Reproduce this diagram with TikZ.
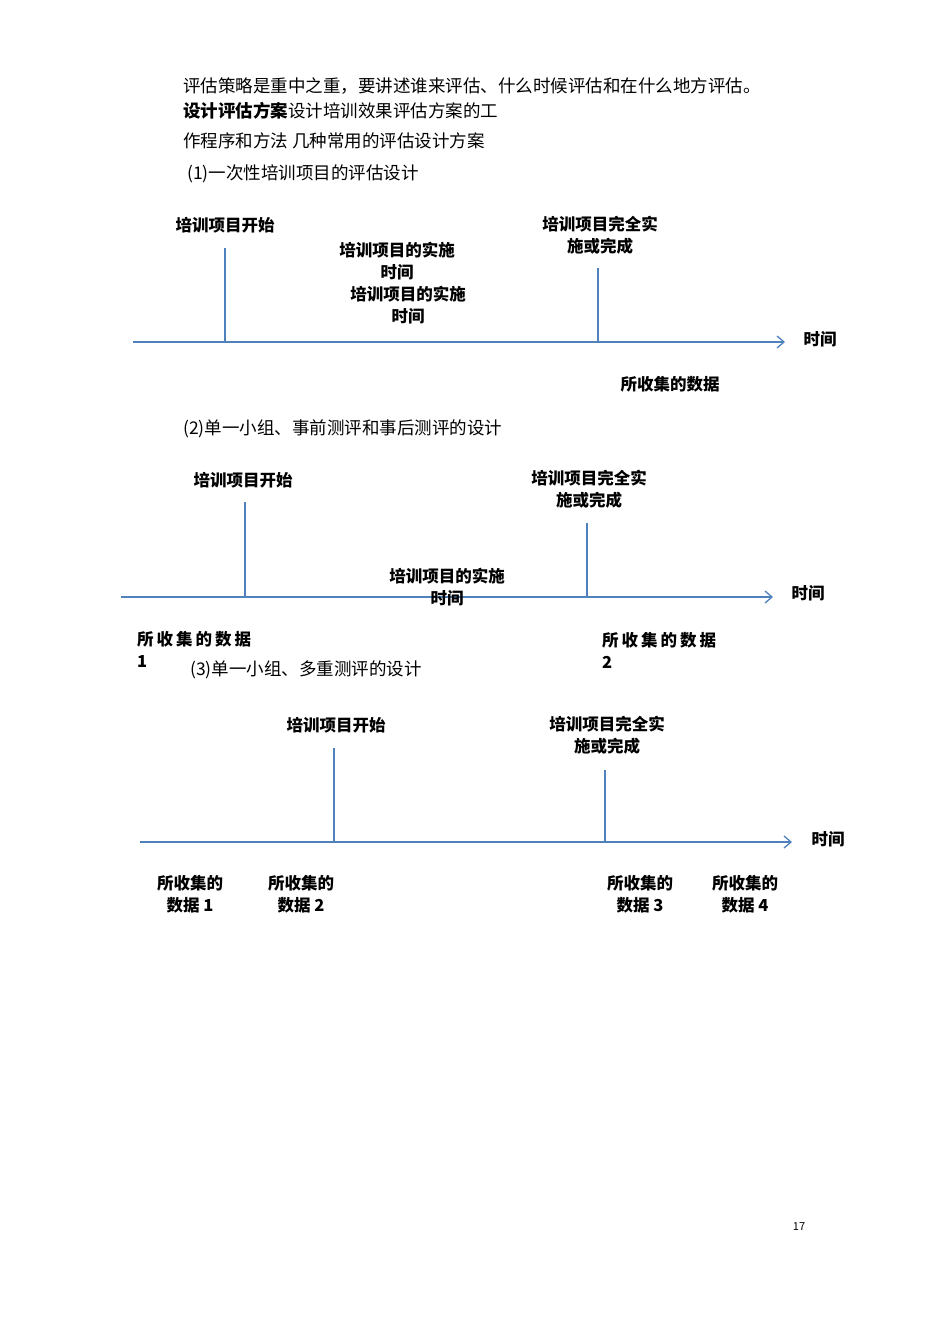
\documentclass[tikz,border=0pt]{standalone}
\usetikzlibrary{arrows.meta}
\usepackage{fontspec}
\setmainfont{Noto Sans CJK SC}
\definecolor{ax}{RGB}{79,129,189}
\begin{document}
\begin{tikzpicture}[x=1pt,y=-1pt,
 body/.style={anchor=west,inner sep=0pt,font=\fontsize{17.5}{20}\selectfont},
 lab/.style={inner sep=0pt,align=center,font=\fontsize{16.5}{22}\selectfont\bfseries},
 axis/.style={draw=ax,line width=1.3pt,-{Straight Barb[length=7pt,width=12pt]}},
 tick/.style={draw=ax,line width=1.3pt}]
\useasboundingbox[fill=white] (0,0) rectangle (950,1344);
\node[body] (t1) at (183,86) {评估策略是重中之重，要讲述谁来评估、什么时候评估和在什么地方评估。};
\node[body] (t2) at (183,111) {\textbf{设计评估方案}设计培训效果评估方案的工};
\node[body] (t3) at (183,141) {作程序和方法\ 几种常用的评估设计方案};
\node[body] (t4) at (187,174) {(1)一次性培训项目的评估设计};
% diagram 1
\coordinate (a1s) at (133,342); \coordinate (a1e) at (785,342);
\draw[axis] (a1s) -- (a1e);
\coordinate (k1a) at (225,248); \coordinate (k1b) at (225,342);
\coordinate (k1c) at (598,268); \coordinate (k1d) at (598,342);
\draw[tick] (k1a) -- (k1b); \draw[tick] (k1c) -- (k1d);
\node[lab] (l11) at (225,225) {培训项目开始};
\node[lab] (l12) at (397,261) {培训项目的实施\\时间};
\node[lab] (l13) at (408,305) {培训项目的实施\\时间};
\node[lab] (l14) at (600,235) {培训项目完全实\\施或完成};
\node[lab] (l15) at (820,339) {时间};
\node[lab] (l16) at (670,384) {所收集的数据};
\node[body] (t5) at (183,429) {(2)单一小组、事前测评和事后测评的设计};
% diagram 2
\coordinate (a2s) at (121,597); \coordinate (a2e) at (773,597);
\draw[axis] (a2s) -- (a2e);
\coordinate (k2a) at (245,502); \coordinate (k2b) at (245,597);
\coordinate (k2c) at (587,523); \coordinate (k2d) at (587,597);
\draw[tick] (k2a) -- (k2b); \draw[tick] (k2c) -- (k2d);
\node[lab] (l21) at (243,480) {培训项目开始};
\node[lab] (l22) at (589,489) {培训项目完全实\\施或完成};
\node[lab] (l23) at (447,587) {培训项目的实施\\时间};
\node[lab] (l24) at (808,593) {时间};
\node[lab,anchor=west,align=left] (l25) at (137,649) {所\kern3pt 收\kern3pt 集\kern3pt 的\kern3pt 数\kern3pt 据\\1};
\node[lab,anchor=west,align=left] (l26) at (602,650) {所\kern3pt 收\kern3pt 集\kern3pt 的\kern3pt 数\kern3pt 据\\2};
\node[body] (t6) at (190,670) {(3)单一小组、多重测评的设计};
% diagram 3
\coordinate (a3s) at (140,842); \coordinate (a3e) at (792,842);
\draw[axis] (a3s) -- (a3e);
\coordinate (k3a) at (334,748); \coordinate (k3b) at (334,842);
\coordinate (k3c) at (605,770); \coordinate (k3d) at (605,842);
\draw[tick] (k3a) -- (k3b); \draw[tick] (k3c) -- (k3d);
\node[lab] (l31) at (336,725) {培训项目开始};
\node[lab] (l32) at (607,735) {培训项目完全实\\施或完成};
\node[lab] (l33) at (828,839) {时间};
\node[lab] (l34) at (190,894) {所收集的\\数据\ 1};
\node[lab] (l35) at (301,894) {所收集的\\数据\ 2};
\node[lab] (l36) at (640,894) {所收集的\\数据\ 3};
\node[lab] (l37) at (745,894) {所收集的\\数据\ 4};
\node[inner sep=0pt,font=\fontsize{11}{13}\selectfont] (pg) at (799,1227) {17};
\end{tikzpicture}
\end{document}
